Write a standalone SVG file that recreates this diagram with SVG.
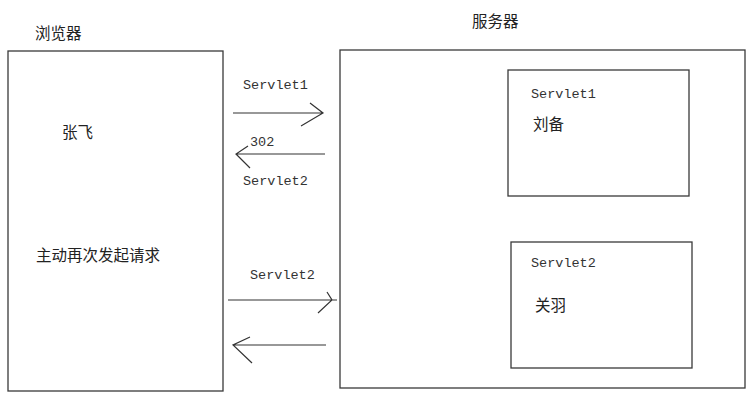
<svg xmlns="http://www.w3.org/2000/svg" width="750" height="404" viewBox="0 0 750 404">
<style>
.box{fill:#fff;stroke:#3a3a3a;stroke-width:1.3}
.cn{font-family:"Noto Sans CJK SC","Noto Sans",sans-serif;font-size:15.5px;fill:#222}
.mono{font-family:"Liberation Mono",monospace;font-size:13.5px;fill:#333}
.ln{stroke:#333;stroke-width:1.2;fill:none}
</style>
<rect width="750" height="404" fill="#fff"/>
<g id="browser">
<text class="cn" x="35" y="39">浏览器</text>
<rect class="box" x="8" y="51" width="215" height="340"/>
<text class="cn" x="62" y="138">张飞</text>
<text class="cn" x="36" y="261">主动再次发起请求</text>
</g>
<g id="server">
<text class="cn" x="472" y="27">服务器</text>
<rect class="box" x="340" y="50" width="405" height="338"/>
</g>
<g id="servlet1">
<rect class="box" x="508" y="70" width="181" height="126"/>
<text class="mono" x="531" y="98">Servlet1</text>
<text class="cn" x="533" y="130">刘备</text>
</g>
<g id="servlet2">
<rect class="box" x="511" y="242" width="181" height="126"/>
<text class="mono" x="531" y="267">Servlet2</text>
<text class="cn" x="535" y="311">关羽</text>
</g>
<g id="connectors">
<path class="ln" d="M233 113H323M310 103L323 113L301 126"/>
<text class="mono" x="243" y="89">Servlet1</text>
<path class="ln" d="M236 154H325M248 146L236 154L250 168"/>
<text class="mono" x="250" y="146">302</text>
<text class="mono" x="243" y="185">Servlet2</text>
<path class="ln" d="M228 300H337M327 292L332 300L318 313"/>
<text class="mono" x="250" y="279">Servlet2</text>
<path class="ln" d="M233 345H326M250 337L233 345L252 363"/>
</g>
</svg>
